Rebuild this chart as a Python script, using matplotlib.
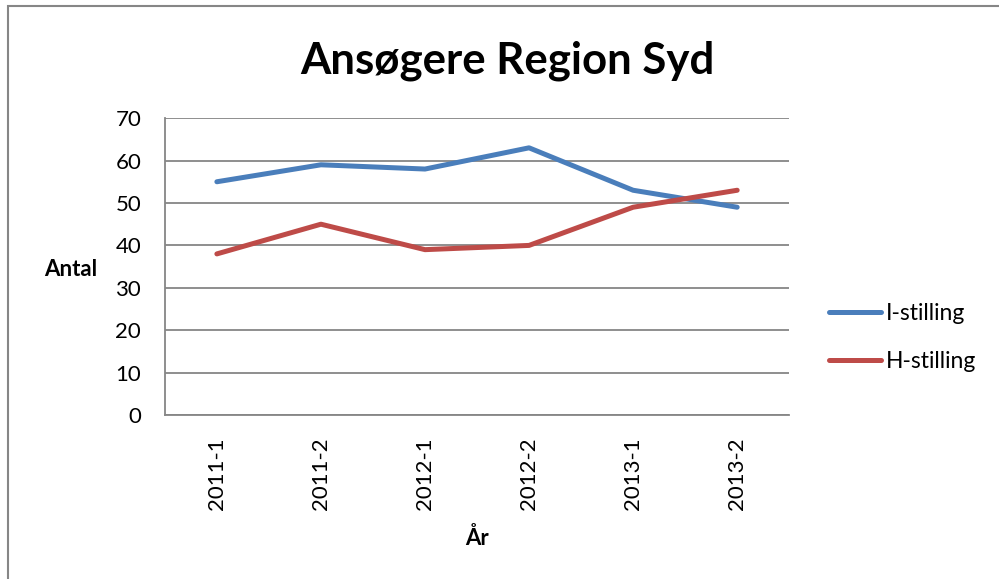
import matplotlib
matplotlib.use("Agg")
import matplotlib.pyplot as plt
from matplotlib.patches import Rectangle

plt.rcParams["font.family"] = ["Lato", "DejaVu Sans"]

periods = ["2011-1", "2011-2", "2012-1", "2012-2", "2013-1", "2013-2"]
i_stilling = [55, 59, 58, 63, 53, 49]
h_stilling = [38, 45, 39, 40, 49, 53]
yticks = [0, 10, 20, 30, 40, 50, 60, 70]

BLUE = "#4A7EBB"
RED = "#BE4B48"
GRID = "#868686"

fig = plt.figure(figsize=(9.99, 5.79), dpi=100)
ax = fig.add_axes([0.165, 0.283, 0.625, 0.513])

x = list(range(len(periods)))
ax.plot(x, i_stilling, color=BLUE, lw=3.6, solid_capstyle="round",
        solid_joinstyle="round", label="I-stilling", zorder=3)
ax.plot(x, h_stilling, color=RED, lw=3.6, solid_capstyle="round",
        solid_joinstyle="round", label="H-stilling", zorder=3)

ax.set_xlim(-0.5, len(periods) - 0.5)
ax.set_ylim(0, 70)
ax.set_yticks(yticks)
ax.set_xticks(x)
ax.set_xticklabels(periods, rotation=90, fontsize=16)
ax.tick_params(axis="y", labelsize=16, length=0, pad=17)
ax.tick_params(axis="x", length=0, pad=16)
ax.yaxis.grid(True, color=GRID, lw=1.3)
ax.set_axisbelow(True)

for s in ["top", "right"]:
    ax.spines[s].set_visible(False)
for s in ["left", "bottom"]:
    ax.spines[s].set_color(GRID)
    ax.spines[s].set_linewidth(1.3)

ax.set_ylabel("Antal", fontsize=16, fontweight="bold", rotation=0,
              va="center", ha="left")
ax.yaxis.set_label_coords(-0.193, 0.49)
ax.set_xlabel("År", fontsize=16, fontweight="bold", labelpad=12)

fig.text(0.508, 0.895, "Ansøgere Region Syd", fontsize=31.5, fontweight="bold",
         ha="center", va="center")

ax.legend(loc="center left", bbox_to_anchor=(1.03, 0.262), frameon=False,
          fontsize=16.5, handlelength=2.3, handletextpad=0.2, labelspacing=1.2)

fig.add_artist(Rectangle((0.008, -0.1), 1.1, 1.09, transform=fig.transFigure,
                         fill=False, edgecolor=GRID, lw=1.5))

fig.savefig("out.png", dpi=100)
